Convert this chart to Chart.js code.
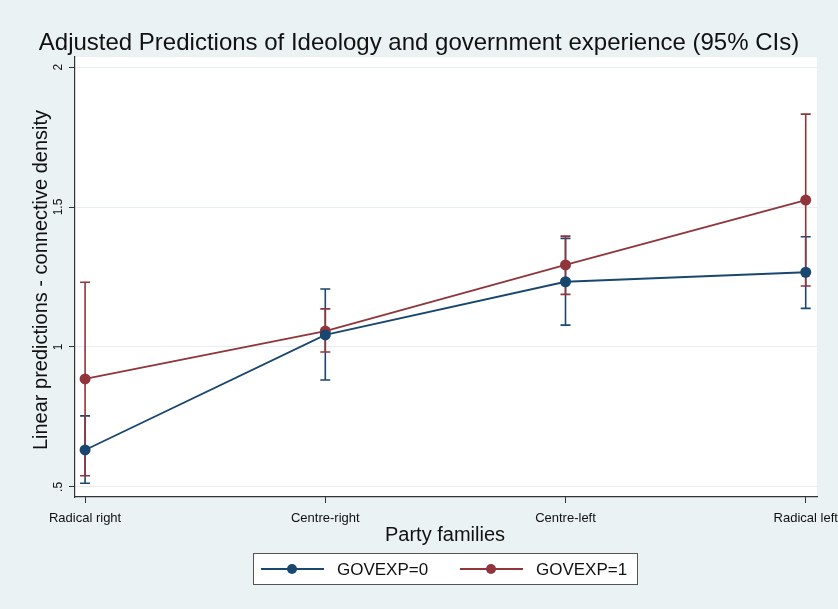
<!DOCTYPE html>
<html>
<head>
<meta charset="utf-8">
<script src="https://cdn.jsdelivr.net/npm/chart.js@4.4.1/dist/chart.umd.min.js"></script>
<style>
  body { margin: 0; background: #eaf2f3; }
  canvas { display: block; }
</style>
</head>
<body>
<canvas id="chart" width="838" height="609"></canvas>
<script>
// Adjusted predictions
const categories = ['Radical right', 'Centre-right', 'Centre-left', 'Radical left'];
const yTicks = [0.5, 1, 1.5, 2];
const yTickLabels = ['.5', '1', '1.5', '2'];

const gov0 = [0.632, 1.043, 1.233, 1.267];
const gov0Lower = [0.513, 0.882, 1.078, 1.138];
const gov0Upper = [0.754, 1.207, 1.388, 1.394];

const gov1 = [0.886, 1.057, 1.293, 1.525];
const gov1Lower = [0.540, 0.982, 1.188, 1.218];
const gov1Upper = [1.231, 1.136, 1.396, 1.832];

const NAVY = '#1a476f';
const MAROON = '#90353b';
const FONT = '"Liberation Sans", Arial, sans-serif';

const toPoints = arr => arr.map((v, i) => ({ x: i, y: v }));

// background: light stata frame + white plot region
const bgPlugin = {
    id: 'bg',
    beforeDraw(chart) {
        const { ctx, chartArea: a } = chart;
        ctx.save();
        ctx.fillStyle = '#eaf2f3';
        ctx.fillRect(0, 0, chart.width, chart.height);
        ctx.fillStyle = '#ffffff';
        ctx.fillRect(a.left, a.top, a.right - a.left, a.bottom - a.top);
        ctx.restore();
    }
};

// capped CI spikes, drawn under the lines
const ciPlugin = {
    id: 'ci',
    beforeDatasetsDraw(chart) {
        const { ctx, scales: { x, y } } = chart;
        const sets = [
            { lo: gov0Lower, hi: gov0Upper, color: NAVY },
            { lo: gov1Lower, hi: gov1Upper, color: MAROON }
        ];
        ctx.save();
        ctx.lineWidth = 1.6;
        sets.forEach(s => {
            ctx.strokeStyle = s.color;
            s.lo.forEach((lo, i) => {
                const px = x.getPixelForValue(i);
                const y1 = y.getPixelForValue(lo);
                const y2 = y.getPixelForValue(s.hi[i]);
                ctx.beginPath();
                ctx.moveTo(px, y1); ctx.lineTo(px, y2);
                ctx.moveTo(px - 5, y1); ctx.lineTo(px + 5, y1);
                ctx.moveTo(px - 5, y2); ctx.lineTo(px + 5, y2);
                ctx.stroke();
            });
        });
        ctx.restore();
    }
};

// texts and legend box
const textPlugin = {
    id: 'texts',
    afterDraw(chart) {
        const { ctx, scales: { y } } = chart;
        ctx.save();
        ctx.fillStyle = '#111';
        ctx.textAlign = 'center';
        ctx.textBaseline = 'middle';

        ctx.font = '24px ' + FONT;
        ctx.fillText('Adjusted Predictions of Ideology and government experience (95% CIs)', 419, 43);

        // rotated y tick labels
        ctx.font = '12px ' + FONT;
        yTicks.forEach((v, i) => {
            ctx.save();
            ctx.translate(59, y.getPixelForValue(v));
            ctx.rotate(-Math.PI / 2);
            ctx.fillText(yTickLabels[i], 0, 0);
            ctx.restore();
        });

        ctx.save();
        ctx.font = '20px ' + FONT;
        ctx.translate(41, 280);
        ctx.rotate(-Math.PI / 2);
        ctx.fillText('Linear predictions - connective density', 0, 0);
        ctx.restore();

        ctx.font = '20px ' + FONT;
        ctx.fillText('Party families', 445, 535);

        // legend
        ctx.fillStyle = '#ffffff';
        ctx.fillRect(253, 553, 384, 31);
        ctx.strokeStyle = '#555';
        ctx.lineWidth = 1;
        ctx.strokeRect(253.5, 553.5, 384, 31);
        const items = [
            { label: 'GOVEXP=0', color: NAVY, x0: 261 },
            { label: 'GOVEXP=1', color: MAROON, x0: 460 }
        ];
        items.forEach(it => {
            ctx.strokeStyle = it.color;
            ctx.lineWidth = 1.8;
            ctx.beginPath();
            ctx.moveTo(it.x0, 569); ctx.lineTo(it.x0 + 63, 569);
            ctx.stroke();
            ctx.fillStyle = it.color;
            ctx.beginPath();
            ctx.arc(it.x0 + 31, 569, 5, 0, Math.PI * 2);
            ctx.fill();
            ctx.fillStyle = '#111';
            ctx.textAlign = 'left';
            ctx.font = '17px ' + FONT;
            ctx.fillText(it.label, it.x0 + 76, 570);
        });
        ctx.restore();
    }
};

new Chart(document.getElementById('chart'), {
    type: 'line',
    data: {
        datasets: [
            {
                label: 'GOVEXP=0',
                data: toPoints(gov0),
                borderColor: NAVY,
                backgroundColor: NAVY,
                borderWidth: 1.8,
                pointRadius: 5.5,
                pointBorderWidth: 0,
                tension: 0
            },
            {
                label: 'GOVEXP=1',
                data: toPoints(gov1),
                borderColor: MAROON,
                backgroundColor: MAROON,
                borderWidth: 1.8,
                pointRadius: 5.5,
                pointBorderWidth: 0,
                tension: 0
            }
        ]
    },
    options: {
        responsive: false,
        animation: false,
        layout: { padding: { top: 57, right: 21, left: 0, bottom: 0 } },
        plugins: {
            legend: { display: false },
            title: { display: false },
            tooltip: { enabled: false }
        },
        scales: {
            x: {
                type: 'linear',
                min: -0.042,
                max: 3.047,
                afterBuildTicks: s => { s.ticks = categories.map((c, i) => ({ value: i })); },
                afterFit: s => { s.height = 112; s.paddingLeft = 0; s.paddingRight = 0; },
                ticks: {
                    callback: v => categories[v] ?? '',
                    color: '#111',
                    font: { family: FONT, size: 13 },
                    padding: 8,
                    maxRotation: 0,
                    autoSkip: false
                },
                grid: { drawOnChartArea: false, tickLength: 6, tickColor: '#333' },
                border: { color: '#333', width: 1.2 }
            },
            y: {
                min: 0.464,
                max: 2.036,
                afterBuildTicks: s => { s.ticks = yTicks.map(v => ({ value: v })); },
                afterFit: s => { s.width = 75; },
                ticks: { display: false },
                grid: { color: '#e6eef0', tickLength: 6, tickColor: '#333' },
                border: { color: '#333', width: 1.2 }
            }
        }
    },
    plugins: [bgPlugin, ciPlugin, textPlugin]
});
</script>
</body>
</html>
